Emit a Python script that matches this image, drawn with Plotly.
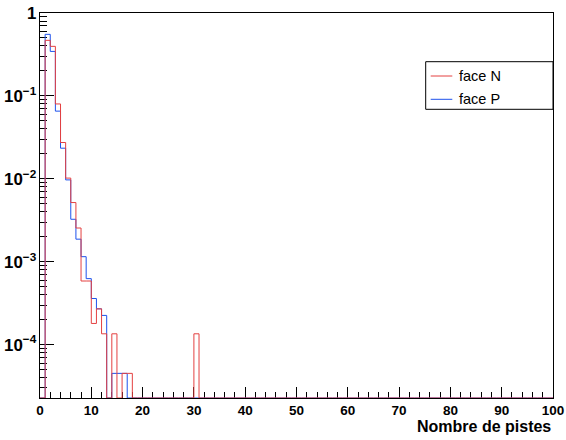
import numpy as np
import plotly.graph_objects as go

# ---- data (normalized counts per strip multiplicity bin, bins of width 1 on [0,100)) ----
n_bins = 100
x_min, x_max = 0, 100

face_n_bins = [1, 2, 3, 4, 5, 6, 7, 8, 9, 10, 11, 12, 14, 16, 17, 30]
face_n_values = [0.468, 0.396, 0.080, 0.0274, 0.0102, 0.00517, 0.00255, 5.85e-4,
                 5.85e-4, 1.8e-4, 2.7e-4, 1.35e-4, 1.35e-4, 4.5e-5, 4.5e-5, 1.35e-4]

face_p_bins = [1, 2, 3, 4, 5, 6, 7, 8, 9, 10, 11, 12, 14, 15, 16]
face_p_values = [0.553, 0.344, 0.0655, 0.0234, 0.0097, 0.00325, 0.00187, 0.00115,
                 6.25e-4, 3.6e-4, 2.7e-4, 2.25e-4, 4.5e-5, 4.5e-5, 4.5e-5]

series_names = ["face N", "face P"]
x_tick_values = [0, 10, 20, 30, 40, 50, 60, 70, 80, 90, 100]
x_tick_labels = ["0", "10", "20", "30", "40", "50", "60", "70", "80", "90", "100"]
x_title = "Nombre de pistes"

# ---- styling ----
W, H = 566, 440
ML, MR, MT, MB = 40, 13, 13, 42
y_log_range = [-4.644, 0.0]
floor_value = 10 ** y_log_range[0]
RED = "rgb(228,64,64)"
BLUE = "rgb(30,82,236)"
FONT = "Liberation Sans, Arial, sans-serif"


def step_arrays(bins, values):
    contents = np.zeros(n_bins)
    for b, v in zip(bins, values):
        contents[b] = v
    contents = np.where(contents > 0, contents, floor_value)
    edges = np.arange(x_min, x_max + 1)
    ys = np.append(contents, contents[-1])
    return edges, ys


fig = go.Figure()
ex, ey = step_arrays(face_p_bins, face_p_values)
fig.add_trace(go.Scatter(x=ex, y=ey, mode="lines", line=dict(color=BLUE, width=1, shape="hv"),
                         name=series_names[1], showlegend=False, hoverinfo="skip"))
ex, ey = step_arrays(face_n_bins, face_n_values)
fig.add_trace(go.Scatter(x=ex, y=ey, mode="lines", line=dict(color=RED, width=1, shape="hv"),
                         name=series_names[0], showlegend=False, hoverinfo="skip"))

pw = W - ML - MR
ph = H - MT - MB


def px2x(px):
    return (px - ML) / pw


def px2y(py):
    return 1 - (py - MT) / ph


shapes = [
    dict(type="rect", xref="paper", yref="paper", x0=px2x(425.7), x1=1.0,
         y0=px2y(109.3), y1=px2y(61.7), line=dict(color="black", width=1), fillcolor="white",
         layer="above"),
    dict(type="line", xref="paper", yref="paper", x0=px2x(430.7), x1=px2x(452.3),
         y0=px2y(76), y1=px2y(76), line=dict(color=RED, width=1)),
    dict(type="line", xref="paper", yref="paper", x0=px2x(430.7), x1=px2x(452.3),
         y0=px2y(99.3), y1=px2y(99.3), line=dict(color=BLUE, width=1)),
]
annotations = [
    dict(text=series_names[0], xref="paper", yref="paper", x=px2x(456.5), y=px2y(76),
         xanchor="left", yanchor="middle", showarrow=False,
         font=dict(family=FONT, size=14.5, color="black")),
    dict(text=series_names[1], xref="paper", yref="paper", x=px2x(456.5), y=px2y(99.3),
         xanchor="left", yanchor="middle", showarrow=False,
         font=dict(family=FONT, size=14.5, color="black")),
    dict(text=x_title, xref="paper", yref="paper", x=1.0, y=px2y(426),
         xanchor="right", yanchor="middle", showarrow=False,
         font=dict(family=FONT, size=16, color="black", weight="bold")),
]

fig.update_layout(
    width=W, height=H,
    margin=dict(l=ML, r=MR, t=MT, b=MB, pad=0, autoexpand=False),
    paper_bgcolor="white", plot_bgcolor="white",
    shapes=shapes, annotations=annotations, showlegend=False,
    font=dict(family=FONT, color="black"),
)
fig.update_xaxes(
    range=[x_min, x_max], tickvals=x_tick_values, ticktext=x_tick_labels,
    ticks="inside", ticklen=11, tickcolor="black", tickwidth=1,
    minor=dict(ticks="inside", ticklen=6, dtick=2, tickcolor="black", showgrid=False),
    showgrid=False, zeroline=False, showline=True, linecolor="black", linewidth=1,
    mirror=True, layer="below traces", automargin=False,
    tickfont=dict(family=FONT, size=13.5, color="black", weight="bold"),
)
fig.update_yaxes(
    type="log", range=y_log_range, dtick=1, exponentformat="power",
    ticks="inside", ticklen=14, tickcolor="black", tickwidth=1,
    minor=dict(ticks="inside", ticklen=7, dtick="D1", tickcolor="black", showgrid=False),
    showgrid=False, zeroline=False, showline=True, linecolor="black", linewidth=1,
    mirror=True, layer="below traces", automargin=False,
    tickfont=dict(family=FONT, size=13.5, color="black", weight="bold"),
)

fig.write_html(
    "out.html",
    config={"displayModeBar": False, "displaylogo": False, "showLink": False,
            "showEditInChartStudio": False, "showSendToCloud": False},
    post_script=("document.body.style.margin='0';document.body.style.padding='0';"
                 "document.body.style.overflow='hidden';"),
)
